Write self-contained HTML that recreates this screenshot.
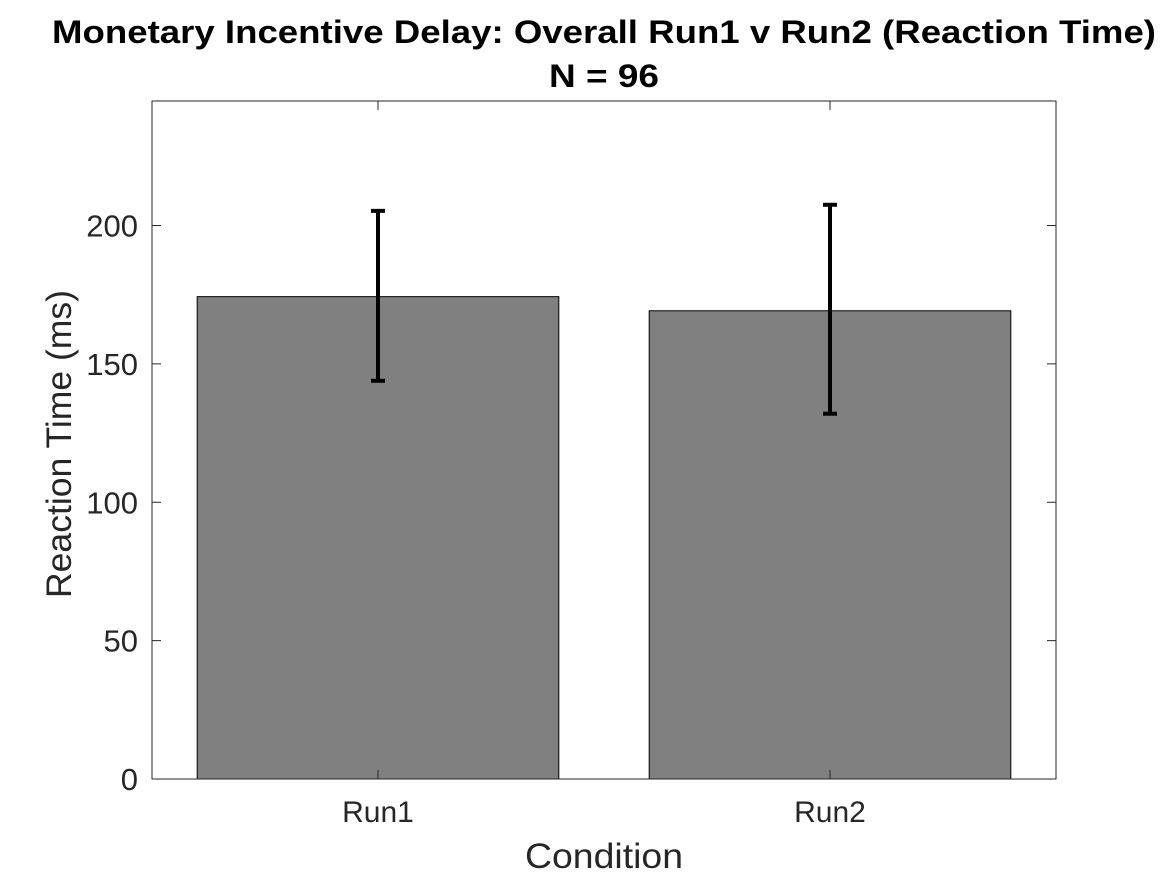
<!DOCTYPE html>
<html><head><meta charset="utf-8"><style>
body{margin:0;background:#fff;}
svg{display:block;font-family:"Liberation Sans",Arial,sans-serif;}
</style></head><body>
<svg id="chart" width="1167" height="875" viewBox="0 0 1167 875">
<rect width="1167" height="875" fill="#fff"/>
<text x="604" y="43" text-anchor="middle" font-size="32" font-weight="bold" textLength="1104" lengthAdjust="spacingAndGlyphs">Monetary Incentive Delay: Overall Run1 v Run2 (Reaction Time)</text>
<text x="604" y="87" text-anchor="middle" font-size="32" font-weight="bold" textLength="110" lengthAdjust="spacingAndGlyphs">N = 96</text>
<g id="bars"></g>
<rect x="152" y="101" width="904" height="678" fill="none" stroke="#262626" stroke-width="1"/>
<g id="ticks"></g>
<text transform="translate(71,444) rotate(-90)" text-anchor="middle" font-size="35" fill="#262626" textLength="308" lengthAdjust="spacingAndGlyphs">Reaction Time (ms)</text>
<text x="604" y="868" text-anchor="middle" font-size="35" fill="#262626" textLength="158" lengthAdjust="spacingAndGlyphs">Condition</text>
</svg>
<script>
const categories=["Run1","Run2"];
const means=[174.3,169.2];
const errUpper=[205.3,207.5];
const errLower=[143.9,132.0];
const yTicks=[0,50,100,150,200];
const yMax=245;
const NS="http://www.w3.org/2000/svg";
const L=152,R=1056,T=101,B=779;
const y=v=>B-(v/yMax)*(B-T);
const x=i=>L+(i+0.5)*(R-L)/categories.length;
const bw=0.8*(R-L)/categories.length;
function mk(tag,attrs,parent){const e=document.createElementNS(NS,tag);for(const k in attrs)e.setAttribute(k,attrs[k]);parent.appendChild(e);return e;}
const gb=document.getElementById('bars'),gt=document.getElementById('ticks');
categories.forEach((c,i)=>{
  const r=mk('rect',{x:x(i)-bw/2,y:y(means[i]),width:bw,height:B-y(means[i]),fill:'#808080',stroke:'#000','stroke-width':1},gb);
  
  
  const g=mk('g',{stroke:'#000','stroke-width':4},gb);
  
  
  mk('line',{x1:x(i),x2:x(i),y1:y(errUpper[i]),y2:y(errLower[i])},g);
  mk('line',{x1:x(i)-7,x2:x(i)+7,y1:y(errUpper[i]),y2:y(errUpper[i])},g);
  mk('line',{x1:x(i)-7,x2:x(i)+7,y1:y(errLower[i]),y2:y(errLower[i])},g);
  mk('line',{x1:x(i),x2:x(i),y1:B,y2:B-9,stroke:'#262626'},gt);
  mk('line',{x1:x(i),x2:x(i),y1:T,y2:T+9,stroke:'#262626'},gt);
  const t=mk('text',{x:x(i),y:822,'text-anchor':'middle','font-size':30,fill:'#262626'},gt);
  t.textContent=c;
  
  
});
yTicks.forEach(v=>{
  mk('line',{x1:L,x2:L+9,y1:y(v),y2:y(v),stroke:'#262626'},gt);
  mk('line',{x1:R,x2:R-9,y1:y(v),y2:y(v),stroke:'#262626'},gt);
  const t=mk('text',{x:L-14,y:y(v)+11,'text-anchor':'end','font-size':31,fill:'#262626'},gt);
  t.textContent=v;
  
  
});
</script>
</body></html>
